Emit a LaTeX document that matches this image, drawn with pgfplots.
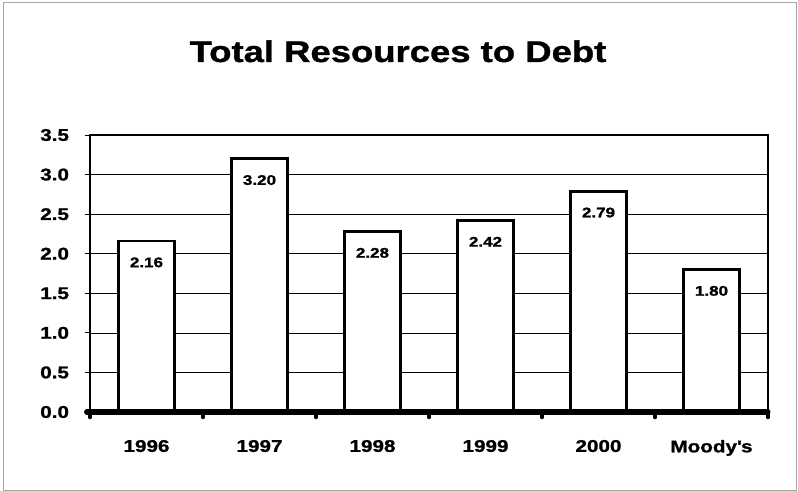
\documentclass[border=0pt]{standalone}
\usepackage{pgfplots}
\pgfplotsset{compat=1.18}
\usepackage{fontspec}
\setmainfont{Liberation Sans}
\newfontfamily\bfw[FakeStretch=1.22, FakeBold=1.2]{Liberation Sans Bold}
\begin{document}
\begin{tikzpicture}
\useasboundingbox (0,0) rectangle (798bp,491bp);
\draw[gray!70, line width=0.8bp] (3bp,1bp) rectangle (796bp,489bp);
\node[font=\bfw\fontsize{30}{34}\selectfont, anchor=base] at (398bp,429bp) {Total Resources to Debt};
\begin{axis}[
  at={(90bp,79bp)}, anchor=south west,
  scale only axis, width=678bp, height=277bp,
  xmin=-0.5, xmax=5.5, ymin=0, ymax=3.5,
  ytick={0,0.5,...,3.5},
  yticklabel style={/pgf/number format/fixed, /pgf/number format/fixed zerofill, /pgf/number format/precision=1, font=\bfw\fontsize{17}{20}\selectfont, xshift=-12bp},
  /pgf/number format/assume math mode=true,
  xtick={-0.5,0.5,1.5,2.5,3.5,4.5,5.5},
  x tick label as interval,
  xticklabels={1996,1997,1998,1999,2000,Moody\textquotesingle s},
  xticklabel style={font=\bfw\fontsize{17}{20}\selectfont, yshift=-19bp},
  x tick style={draw=black, line width=3.5bp, line cap=round},
  y tick style={line width=0.8bp, black},
  major tick length=5.5bp,
  tick align=outside,
  xtick pos=bottom, ytick pos=left,
  ymajorgrids, grid style={black, line width=0.7bp},
  axis line style={line width=2.5bp},
  ybar, bar width=0.5,
  nodes near coords={\pgfmathprintnumber[fixed,fixed zerofill,precision=2]{\pgfplotspointmeta}},
  every node near coord/.append style={anchor=north, inner sep=0pt, yshift=-15bp, font=\bfw\fontsize{14}{16}\selectfont, /pgf/number format/assume math mode=true},
  clip=false,
]
\addplot[fill=white, draw=black, line width=2.8bp] coordinates {(0,2.16) (1,3.20) (2,2.28) (3,2.42) (4,2.79) (5,1.80)};
\draw[line width=5bp, line cap=round] (axis cs:-0.53,0) -- (axis cs:5.5,0);
\end{axis}
\end{tikzpicture}
\end{document}
